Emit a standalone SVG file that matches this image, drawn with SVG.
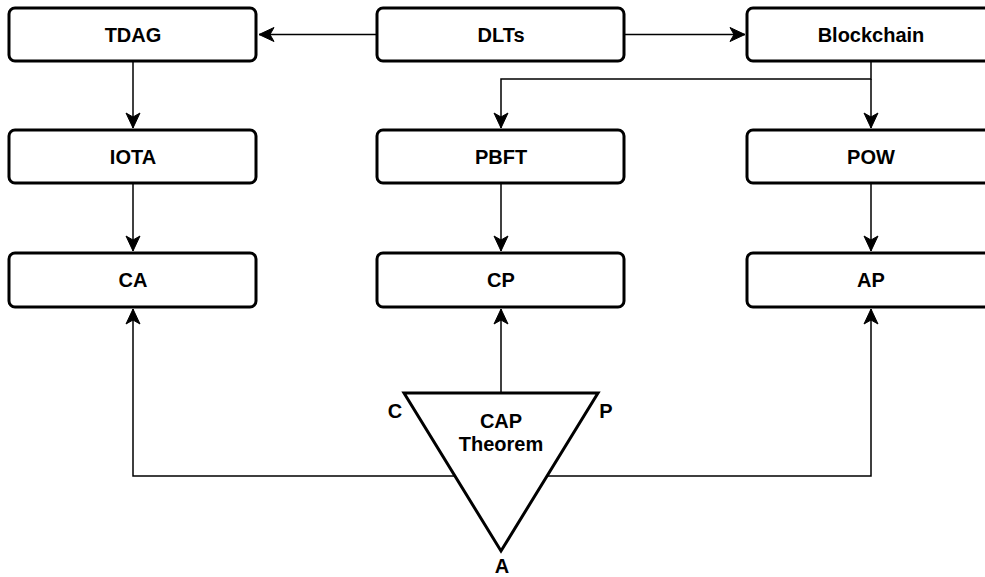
<svg xmlns="http://www.w3.org/2000/svg" width="985" height="577" viewBox="0 0 985 577">
<style>
.box{fill:#fff;stroke:#000;stroke-width:3}
.lbl{font-family:"Liberation Sans",Arial,sans-serif;font-weight:bold;font-size:20px;fill:#000;text-anchor:middle}
.edge{fill:none;stroke:#000;stroke-width:1.5}
</style>
<defs>
<marker id="arr" markerUnits="userSpaceOnUse" viewBox="-16 -8 17 16" refX="0" refY="0" markerWidth="17" markerHeight="16" orient="auto">
<path d="M0,0 L-15,-7 L-11,0 L-15,7 Z" fill="#000" stroke="#000" stroke-width="1"/>
</marker>
</defs>
<rect width="985" height="577" fill="#fff"/>
<g id="connectors">
<path class="edge" d="M377,34.5 L259,34.5" marker-end="url(#arr)"/>
<path class="edge" d="M624,34.5 L745,34.5" marker-end="url(#arr)"/>
<path class="edge" d="M133,61 L133,128" marker-end="url(#arr)"/>
<path class="edge" d="M133,183 L133,251" marker-end="url(#arr)"/>
<path class="edge" d="M871,61 L871,79 L501,79 L501,128" marker-end="url(#arr)"/>
<path class="edge" d="M871,79 L871,128" marker-end="url(#arr)"/>
<path class="edge" d="M501,183 L501,251" marker-end="url(#arr)"/>
<path class="edge" d="M871,183 L871,251" marker-end="url(#arr)"/>
<path class="edge" d="M501,393 L501,309" marker-end="url(#arr)"/>
<path class="edge" d="M460,476 L133,476 L133,309" marker-end="url(#arr)"/>
<path class="edge" d="M542,476 L871,476 L871,309" marker-end="url(#arr)"/>
</g>
<g id="TDAG"><rect class="box" x="9" y="8" width="247" height="53" rx="6"/><text class="lbl" x="133" y="42">TDAG</text></g>
<g id="DLTs"><rect class="box" x="377" y="8" width="247" height="53" rx="6"/><text class="lbl" x="501" y="42">DLTs</text></g>
<g id="Blockchain"><rect class="box" x="747" y="8" width="247" height="53" rx="6"/><text class="lbl" x="871" y="42">Blockchain</text></g>
<g id="IOTA"><rect class="box" x="9" y="130" width="247" height="53" rx="6"/><text class="lbl" x="133" y="164">IOTA</text></g>
<g id="PBFT"><rect class="box" x="377" y="130" width="247" height="53" rx="6"/><text class="lbl" x="501" y="164">PBFT</text></g>
<g id="POW"><rect class="box" x="747" y="130" width="247" height="53" rx="6"/><text class="lbl" x="871" y="164">POW</text></g>
<g id="CA"><rect class="box" x="9" y="253" width="247" height="54" rx="6"/><text class="lbl" x="133" y="287">CA</text></g>
<g id="CP"><rect class="box" x="377" y="253" width="247" height="54" rx="6"/><text class="lbl" x="501" y="287">CP</text></g>
<g id="AP"><rect class="box" x="747" y="253" width="247" height="54" rx="6"/><text class="lbl" x="871" y="287">AP</text></g>
<g id="CAP">
<polygon class="box" points="404,393 598,393 501,551" stroke-linejoin="miter"/>
<text class="lbl" x="501" y="428">CAP</text>
<text class="lbl" x="501" y="451">Theorem</text>
<text class="lbl" x="395" y="418">C</text>
<text class="lbl" x="606" y="418">P</text>
<text class="lbl" x="502" y="573">A</text>
</g>
</svg>
